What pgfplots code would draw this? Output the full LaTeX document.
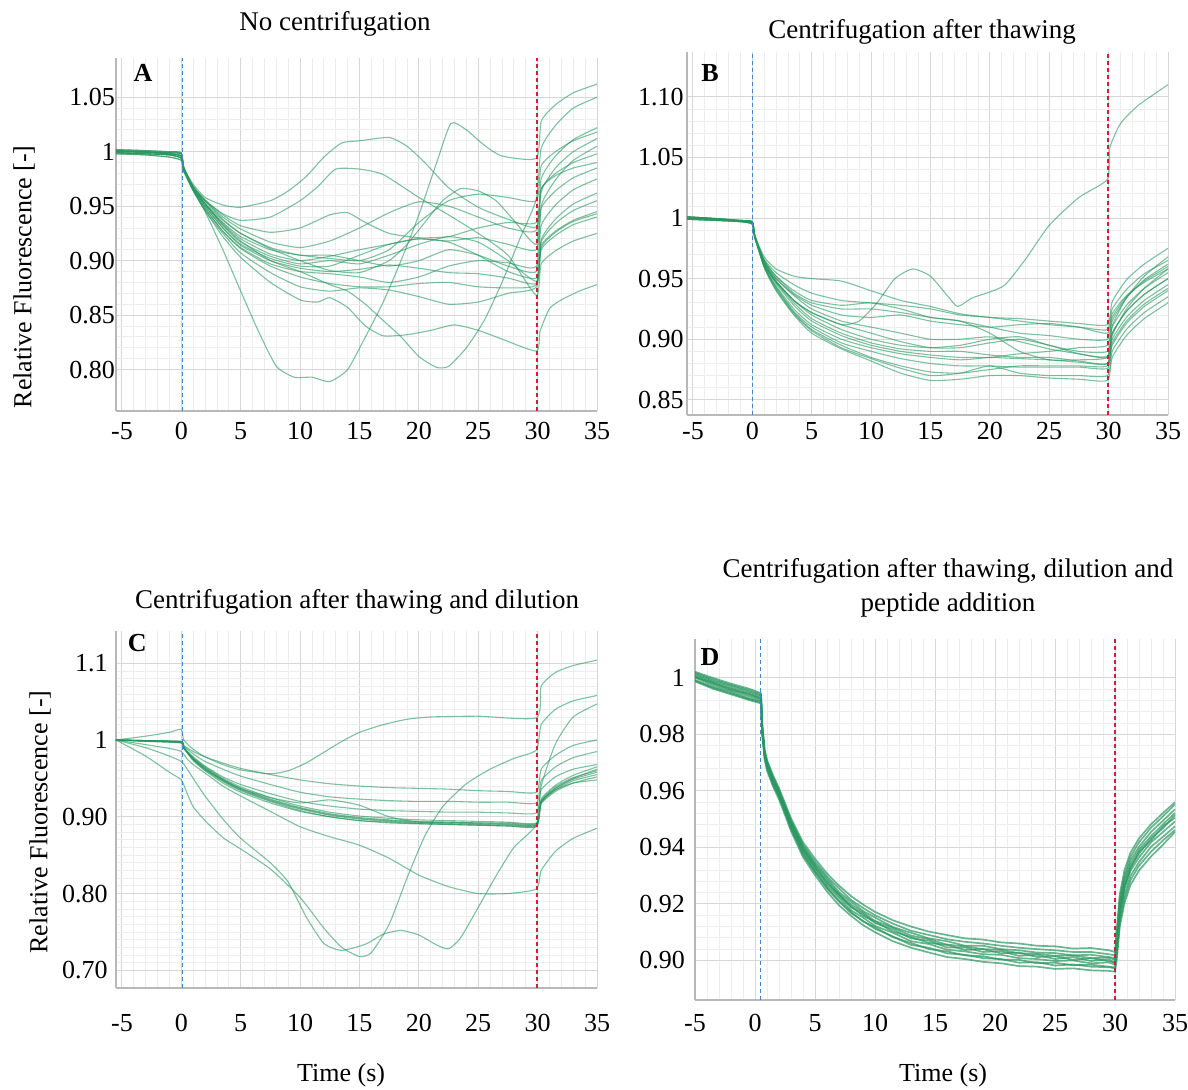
\documentclass[border=0pt]{standalone}
\usepackage{fontspec}
\setmainfont{Liberation Serif}
\usepackage{pgfplots}
\pgfplotsset{compat=1.18}
\definecolor{trc}{RGB}{40,150,95}
\definecolor{vblue}{RGB}{60,135,205}
\definecolor{vred}{RGB}{210,30,60}
\pgfplotsset{
  panel/.style={
    scale only axis,
    axis x line*=bottom, axis y line*=left,
    axis line style={-, draw=black!28, line width=0.6pt},
    major tick length=0pt, minor tick length=0pt,
    xmajorgrids, ymajorgrids, xminorgrids, yminorgrids,
    major grid style={draw=black!16, line width=0.5pt},
    minor grid style={draw=black!7, line width=0.4pt},
    xmin=-5.5, xmax=35,
    xtick={-5,0,5,10,15,20,25,30,35},
    xticklabels={-5,0,5,10,15,20,25,30,35},
    minor x tick num=4,
    tick label style={font=\fontsize{13}{15}\selectfont},
    label style={font=\fontsize{13}{15}\selectfont},
    /pgf/number format/assume math mode=true,
    clip=true,
  },
  tr/.style={draw=trc, draw opacity=0.6, line width=0.55pt, mark=none, smooth, tension=0.35},
  trd/.style={draw=trc, draw opacity=0.7, line width=0.85pt, mark=none},
}
\tikzset{
  vb/.style={draw=vblue, line width=0.7pt, dash pattern=on 2pt off 1.5pt},
  vr/.style={draw=vred, line width=0.6pt, dash pattern=on 2pt off 1.5pt},
}
\newcommand{\plab}[2]{\node[font=\bfseries\fontsize{13}{15}\selectfont] at (rel axis cs:#1) {#2};}
\begin{document}
\begin{tikzpicture}
\useasboundingbox (0,0) rectangle (594pt,545pt);
% ---------------- A ----------------
\begin{axis}[panel, at={(58pt,339.5pt)}, anchor=south west, width=240.5pt, height=176.5pt,
  ymin=0.762, ymax=1.086, ytick={0.8,0.85,0.9,0.95,1,1.05}, yticklabels={0.80,0.85,0.90,0.95,1,1.05},
  minor y tick num=4, ylabel={Relative Fluorescence [-]},
  ylabel style={at={(rel axis cs:-0.191,0.38)}, anchor=center},
  xticklabel style={yshift=-2pt}, yticklabel style={xshift=3pt}]
\addplot[tr] coordinates {(-5.5,1.001)(-3,1.0)(-1,0.999)(0,0.998)(0.2,0.985)(1,0.966)(2,0.945)(3.5,0.91)(5,0.872)(6.5,0.835)(8,0.803)(9.5,0.793)(11,0.793)(12.5,0.789)(14,0.8)(15.5,0.83)(17,0.862)(18.5,0.9)(20,0.942)(21.5,0.99)(22.7,1.026)(24,1.02)(25.5,1.006)(27,0.996)(29.9,0.994)(30.3,1.028)(31.5,1.043)(33,1.054)(35,1.062)};
\addplot[tr] coordinates {(-5.5,1.0)(-3,0.9995)(-1,0.998)(0,0.996)(0.2,0.985)(1,0.97)(2,0.958)(3.5,0.951)(5,0.949)(7.5,0.955)(9,0.964)(10.5,0.977)(12,0.995)(13.5,1.008)(15,1.01)(17.5,1.013)(19,1.005)(20.5,0.99)(22.5,0.967)(25,0.949)(27.5,0.938)(29.9,0.931)(30.3,0.966)(31.5,0.978)(33,0.985)(35,0.99)};
\addplot[tr] coordinates {(-5.5,0.999)(-3,0.998)(-1,0.997)(0,0.994)(0.2,0.983)(1,0.967)(2,0.955)(3.5,0.943)(5,0.937)(7.5,0.94)(10,0.955)(11.5,0.968)(13,0.984)(15,0.984)(17,0.979)(20,0.958)(22.5,0.942)(25,0.925)(27.5,0.905)(29.9,0.868)(30.3,0.897)(31.5,0.909)(33,0.918)(35,0.925)};
\addplot[tr] coordinates {(-5.5,0.998)(-3,0.997)(-1,0.995)(0,0.992)(0.2,0.982)(1,0.964)(2,0.946)(3.5,0.922)(5,0.903)(7.5,0.88)(10,0.864)(11.5,0.862)(12.5,0.866)(14,0.857)(15.5,0.84)(17,0.831)(19,0.832)(21,0.836)(23,0.841)(25,0.836)(27,0.828)(29.9,0.817)(30.2,0.835)(31,0.856)(32,0.864)(33.5,0.872)(35,0.878)};
\addplot[tr] coordinates {(-5.5,1.002)(-3,1.001)(-1,1.0)(0,0.999)(0.2,0.986)(1,0.967)(2,0.952)(3.5,0.933)(5,0.918)(7.5,0.9)(10,0.89)(12.5,0.878)(14,0.872)(15.5,0.86)(17,0.845)(18.5,0.83)(20,0.812)(21.5,0.802)(22.5,0.803)(24,0.82)(25.5,0.845)(27,0.88)(28.5,0.92)(29.9,0.957)(30.3,1.003)(31.5,1.024)(33,1.04)(35,1.05)};
\addplot[tr] coordinates {(-5.5,1.0)(-3,0.9995)(-1,0.998)(0,0.996)(0.2,0.985)(1,0.968)(2,0.955)(3.5,0.938)(5,0.925)(7.5,0.911)(10,0.9)(12.5,0.891)(15,0.889)(17.5,0.9)(19,0.915)(20.5,0.935)(22,0.955)(23.5,0.966)(25,0.964)(26.5,0.955)(28,0.937)(29.9,0.915)(30.3,0.963)(31.5,0.985)(33,1.0)(35,1.012)};
\addplot[tr] coordinates {(-5.5,1.001)(-3,1.0)(-1,0.999)(0,0.998)(0.2,0.985)(1,0.968)(2,0.956)(3.5,0.942)(5,0.932)(7.5,0.926)(10,0.93)(12.5,0.942)(14,0.944)(15.5,0.935)(17.5,0.925)(20,0.921)(22.5,0.922)(25,0.93)(27.5,0.935)(29.9,0.935)(30.3,0.966)(31.5,0.98)(33,0.99)(35,0.998)};
\addplot[tr] coordinates {(-5.5,0.999)(-3,0.998)(-1,0.997)(0,0.994)(0.2,0.983)(1,0.966)(2,0.952)(3.5,0.934)(5,0.92)(7.5,0.906)(10,0.9)(12.5,0.904)(15,0.91)(17.5,0.915)(20,0.92)(22.5,0.918)(25,0.921)(27.5,0.915)(29.9,0.91)(30.3,0.948)(31.5,0.964)(33,0.976)(35,0.985)};
\addplot[tr] coordinates {(-5.5,1.0)(-3,0.9995)(-1,0.998)(0,0.996)(0.2,0.985)(1,0.967)(2,0.952)(3.5,0.932)(5,0.917)(7.5,0.904)(10,0.897)(12.5,0.9)(15,0.897)(17.5,0.905)(20,0.915)(22.5,0.922)(25,0.917)(27.5,0.9)(29.9,0.881)(30.3,0.912)(31.5,0.926)(33,0.936)(35,0.943)};
\addplot[tr] coordinates {(-5.5,1.001)(-3,1.0)(-1,0.999)(0,0.998)(0.2,0.985)(1,0.966)(2,0.95)(3.5,0.93)(5,0.914)(7.5,0.9)(10,0.893)(12.5,0.89)(15,0.892)(17.5,0.896)(20,0.893)(22.5,0.889)(25,0.888)(27.5,0.884)(29.9,0.879)(30.3,0.91)(31.5,0.923)(33,0.933)(35,0.94)};
\addplot[tr] coordinates {(-5.5,0.999)(-3,0.998)(-1,0.997)(0,0.994)(0.2,0.983)(1,0.965)(2,0.948)(3.5,0.927)(5,0.911)(7.5,0.895)(10,0.885)(12.5,0.879)(15,0.876)(17.5,0.876)(20,0.879)(22.5,0.88)(25,0.876)(27.5,0.875)(29.9,0.878)(30.3,0.917)(31.5,0.934)(33,0.946)(35,0.955)};
\addplot[tr] coordinates {(-5.5,1.0)(-3,0.9995)(-1,0.998)(0,0.996)(0.2,0.984)(1,0.964)(2,0.946)(3.5,0.925)(5,0.907)(7.5,0.889)(10,0.876)(12.5,0.872)(15,0.875)(17.5,0.873)(20,0.867)(22.5,0.86)(25,0.862)(27.5,0.87)(29.9,0.876)(30.3,0.919)(31.5,0.938)(33,0.952)(35,0.962)};
\addplot[tr] coordinates {(-5.5,1.002)(-3,1.001)(-1,1.0)(0,0.999)(0.2,0.986)(1,0.968)(2,0.955)(3.5,0.94)(5,0.929)(7.5,0.917)(10,0.912)(12.5,0.918)(15,0.93)(17.5,0.944)(20,0.954)(22.5,0.95)(25,0.94)(27.5,0.93)(29.9,0.928)(30.3,0.975)(31.5,0.996)(33,1.011)(35,1.022)};
\addplot[tr] coordinates {(-5.5,1.0)(-3,0.9995)(-1,0.998)(0,0.996)(0.2,0.985)(1,0.967)(2,0.952)(3.5,0.935)(5,0.922)(7.5,0.91)(10,0.905)(12.5,0.902)(15,0.9)(17.5,0.91)(20,0.935)(22.5,0.955)(25,0.961)(27.5,0.958)(29.9,0.955)(30.3,0.987)(31.5,1.0)(33,1.01)(35,1.018)};
\addplot[tr] coordinates {(-5.5,0.998)(-3,0.997)(-1,0.995)(0,0.992)(0.2,0.982)(1,0.967)(2,0.953)(3.5,0.937)(5,0.925)(7.5,0.912)(10,0.905)(12.5,0.905)(15,0.9)(17.5,0.895)(20,0.9)(22.5,0.91)(25,0.905)(27.5,0.895)(29.9,0.89)(30.3,0.932)(31.5,0.951)(33,0.965)(35,0.975)};
\addplot[tr] coordinates {(-5.5,1.001)(-3,1.0)(-1,0.999)(0,0.998)(0.2,0.985)(1,0.966)(2,0.95)(3.5,0.93)(5,0.915)(7.5,0.902)(10,0.895)(12.5,0.895)(15,0.905)(17.5,0.915)(20,0.92)(22.5,0.917)(25,0.905)(27.5,0.89)(29.9,0.884)(30.3,0.914)(31.5,0.927)(33,0.937)(35,0.945)};
\addplot[tr] coordinates {(-5.5,0.999)(-3,0.998)(-1,0.997)(0,0.994)(0.2,0.983)(1,0.965)(2,0.948)(3.5,0.927)(5,0.912)(7.5,0.897)(10,0.89)(12.5,0.888)(15,0.885)(17.5,0.88)(20,0.885)(22.5,0.895)(25,0.9)(27.5,0.898)(29.9,0.895)(30.3,0.95)(31.5,0.974)(33,0.992)(35,1.005)};
\draw[vb] (axis cs:0.08,0.762) -- (axis cs:0.08,1.086);
\draw[vr] (axis cs:29.95,0.762) -- (axis cs:29.95,1.086);
\plab{0.056,0.957}{A}
\end{axis}
% ---------------- B ----------------
\begin{axis}[panel, at={(343.5pt,337.5pt)}, anchor=south west, width=240.5pt, height=181.5pt,
  ymin=0.8375, ymax=1.137, ytick={0.85,0.9,0.95,1,1.05,1.1}, yticklabels={0.85,0.90,0.95,1,1.05,1.10},
  minor y tick num=4, yticklabel style={xshift=1.8pt}]
\addplot[tr] coordinates {(-5.5,1.0)(-3,0.999)(-1,0.9975)(0,0.996)(0.2,0.985)(1,0.963)(2,0.948)(3.5,0.932)(5,0.922)(7.5,0.912)(9,0.915)(10.5,0.93)(12,0.95)(13.5,0.958)(15,0.952)(16.5,0.935)(17.3,0.927)(18.5,0.934)(20,0.939)(21.3,0.945)(23,0.966)(25,0.994)(27.5,1.017)(29.9,1.032)(30.1,1.058)(31,1.078)(32.5,1.093)(35,1.11)};
\addplot[tr] coordinates {(-5.5,1.001)(-3,0.9995)(-1,0.998)(0,0.997)(0.2,0.986)(1,0.968)(2,0.958)(3.5,0.952)(5,0.95)(7.5,0.948)(10,0.94)(12.5,0.932)(15,0.927)(17.5,0.921)(20,0.918)(22.5,0.917)(25,0.915)(27.5,0.913)(29.9,0.912)(30.3,0.931)(31.5,0.949)(33,0.962)(35,0.975)};
\addplot[tr] coordinates {(-5.5,1.0)(-3,0.999)(-1,0.9975)(0,0.996)(0.2,0.985)(1,0.966)(2,0.955)(3.5,0.945)(5,0.938)(7.5,0.932)(10,0.93)(12.5,0.928)(15,0.925)(17.5,0.92)(20,0.918)(22.5,0.915)(25,0.912)(27.5,0.91)(29.9,0.908)(30.3,0.925)(31.5,0.941)(33,0.954)(35,0.965)};
\addplot[tr] coordinates {(-5.5,0.999)(-3,0.998)(-1,0.997)(0,0.995)(0.2,0.984)(1,0.965)(2,0.952)(3.5,0.94)(5,0.932)(7.5,0.928)(10,0.93)(12.5,0.925)(15,0.918)(17.5,0.915)(20,0.91)(22.5,0.905)(25,0.903)(27.5,0.9)(29.9,0.9)(30.3,0.918)(31.5,0.935)(33,0.948)(35,0.96)};
\addplot[tr] coordinates {(-5.5,1.001)(-3,0.9995)(-1,0.998)(0,0.997)(0.2,0.986)(1,0.964)(2,0.95)(3.5,0.937)(5,0.928)(7.5,0.92)(10,0.918)(12.5,0.92)(15,0.915)(17.5,0.912)(20,0.91)(22.5,0.912)(25,0.913)(27.5,0.91)(29.9,0.905)(30.3,0.921)(31.5,0.936)(33,0.947)(35,0.958)};
\addplot[tr] coordinates {(-5.5,1.0)(-3,0.999)(-1,0.9975)(0,0.996)(0.2,0.985)(1,0.965)(2,0.952)(3.5,0.938)(5,0.93)(7.5,0.925)(10,0.925)(12.5,0.922)(15,0.918)(17.5,0.915)(20,0.905)(22.5,0.89)(25,0.883)(27.5,0.883)(29.9,0.885)(30.3,0.905)(31.5,0.923)(33,0.937)(35,0.95)};
\addplot[tr] coordinates {(-5.5,0.999)(-3,0.998)(-1,0.997)(0,0.995)(0.2,0.984)(1,0.963)(2,0.948)(3.5,0.932)(5,0.92)(7.5,0.908)(10,0.9)(12.5,0.895)(15,0.893)(17.5,0.895)(20,0.9)(22.5,0.902)(25,0.895)(27.5,0.89)(29.9,0.89)(30.3,0.91)(31.5,0.928)(33,0.942)(35,0.955)};
\addplot[tr] coordinates {(-5.5,1.0)(-3,0.999)(-1,0.9975)(0,0.996)(0.2,0.985)(1,0.962)(2,0.947)(3.5,0.93)(5,0.917)(7.5,0.905)(10,0.897)(12.5,0.892)(15,0.89)(17.5,0.89)(20,0.887)(22.5,0.885)(25,0.885)(27.5,0.882)(29.9,0.88)(30.3,0.9)(31.5,0.918)(33,0.932)(35,0.945)};
\addplot[tr] coordinates {(-5.5,1.001)(-3,0.9995)(-1,0.998)(0,0.997)(0.2,0.986)(1,0.962)(2,0.946)(3.5,0.928)(5,0.915)(7.5,0.903)(10,0.895)(12.5,0.89)(15,0.887)(17.5,0.885)(20,0.885)(22.5,0.884)(25,0.883)(27.5,0.881)(29.9,0.88)(30.3,0.903)(31.5,0.925)(33,0.942)(35,0.958)};
\addplot[tr] coordinates {(-5.5,1.0)(-3,0.999)(-1,0.9975)(0,0.996)(0.2,0.985)(1,0.961)(2,0.944)(3.5,0.925)(5,0.912)(7.5,0.9)(10,0.893)(12.5,0.888)(15,0.885)(17.5,0.883)(20,0.885)(22.5,0.888)(25,0.89)(27.5,0.893)(29.9,0.895)(30.3,0.915)(31.5,0.934)(33,0.949)(35,0.962)};
\addplot[tr] coordinates {(-5.5,0.999)(-3,0.998)(-1,0.997)(0,0.995)(0.2,0.984)(1,0.96)(2,0.943)(3.5,0.923)(5,0.91)(7.5,0.897)(10,0.89)(12.5,0.884)(15,0.88)(17.5,0.878)(20,0.878)(22.5,0.877)(25,0.877)(27.5,0.877)(29.9,0.876)(30.3,0.895)(31.5,0.913)(33,0.927)(35,0.94)};
\addplot[tr] coordinates {(-5.5,1.001)(-3,0.9995)(-1,0.998)(0,0.997)(0.2,0.986)(1,0.96)(2,0.942)(3.5,0.922)(5,0.908)(7.5,0.895)(10,0.885)(12.5,0.878)(15,0.873)(17.5,0.872)(20,0.875)(22.5,0.878)(25,0.878)(27.5,0.878)(29.9,0.878)(30.3,0.897)(31.5,0.915)(33,0.929)(35,0.942)};
\addplot[tr] coordinates {(-5.5,1.0)(-3,0.999)(-1,0.9975)(0,0.996)(0.2,0.985)(1,0.959)(2,0.94)(3.5,0.92)(5,0.905)(7.5,0.892)(10,0.882)(12.5,0.872)(15,0.866)(17.5,0.867)(20,0.87)(22.5,0.87)(25,0.868)(27.5,0.867)(29.9,0.866)(30.3,0.885)(31.5,0.903)(33,0.917)(35,0.93)};
\addplot[tr] coordinates {(-5.5,0.999)(-3,0.998)(-1,0.997)(0,0.995)(0.2,0.984)(1,0.96)(2,0.941)(3.5,0.921)(5,0.907)(7.5,0.893)(10,0.884)(12.5,0.876)(15,0.87)(17.5,0.872)(20,0.878)(22.5,0.872)(25,0.87)(27.5,0.87)(29.9,0.87)(30.3,0.89)(31.5,0.908)(33,0.922)(35,0.935)};
\addplot[tr] coordinates {(-5.5,1.001)(-3,0.9995)(-1,0.998)(0,0.997)(0.2,0.986)(1,0.962)(2,0.947)(3.5,0.932)(5,0.922)(7.5,0.912)(10,0.905)(12.5,0.898)(15,0.893)(17.5,0.893)(20,0.897)(22.5,0.9)(25,0.895)(27.5,0.888)(29.9,0.885)(30.3,0.905)(31.5,0.923)(33,0.937)(35,0.95)};
\addplot[tr] coordinates {(-5.5,1.0)(-3,0.999)(-1,0.9975)(0,0.996)(0.2,0.985)(1,0.964)(2,0.95)(3.5,0.936)(5,0.925)(7.5,0.915)(10,0.91)(12.5,0.905)(15,0.9)(17.5,0.9)(20,0.902)(22.5,0.898)(25,0.892)(27.5,0.888)(29.9,0.886)(30.3,0.911)(31.5,0.934)(33,0.952)(35,0.968)};
\draw[vb] (axis cs:0.03,0.8375) -- (axis cs:0.03,1.137);
\draw[vr] (axis cs:29.95,0.8375) -- (axis cs:29.95,1.137);
\plab{0.048,0.942}{B}
\end{axis}
% ---------------- C ----------------
\begin{axis}[panel, at={(58pt,51pt)}, anchor=south west, width=240.5pt, height=178.5pt,
  ymin=0.677, ymax=1.142, ytick={0.7,0.8,0.9,1,1.1}, yticklabels={0.70,0.80,0.90,1,1.1},
  minor y tick num=9, ylabel={Relative Fluorescence [-]}, xlabel={Time (s)},
  ylabel style={at={(rel axis cs:-0.158,0.465)}, anchor=center},
  xlabel style={at={(rel axis cs:0.468,-0.244)}, anchor=center},
  xticklabel style={yshift=-9.5pt}, yticklabel style={xshift=-0.7pt}]
\addplot[tr] coordinates {(-5.5,1.0)(-3,1.005)(-1,1.01)(0,1.014)(0.2,1.0)(1,0.988)(2,0.978)(3.5,0.968)(5,0.961)(7.5,0.956)(9,0.96)(10.5,0.97)(12,0.984)(13.5,0.998)(15,1.01)(17,1.02)(19,1.027)(21,1.03)(25,1.031)(29.9,1.029)(30.3,1.07)(31.5,1.088)(33,1.097)(35,1.104)};
\addplot[tr] coordinates {(-5.5,1.0)(-3,0.979)(-1,0.958)(0,0.948)(0.5,0.93)(1,0.913)(2,0.895)(3.5,0.873)(5,0.858)(7.5,0.832)(10,0.795)(12,0.755)(13.5,0.73)(15,0.718)(16,0.723)(17.5,0.76)(19,0.82)(20.5,0.875)(22,0.913)(24,0.943)(26,0.962)(28,0.976)(29.9,0.987)(30.3,1.02)(31.5,1.04)(33,1.051)(35,1.058)};
\addplot[tr] coordinates {(-5.5,1.0)(-3,0.99)(-1,0.979)(0,0.972)(0.5,0.962)(1,0.95)(2,0.927)(3.5,0.897)(5,0.872)(7.5,0.84)(9,0.815)(10.5,0.77)(12,0.735)(13.5,0.726)(15.5,0.734)(17,0.747)(18.5,0.752)(20,0.746)(21.5,0.733)(22.5,0.728)(23.5,0.742)(25,0.782)(26.5,0.823)(28,0.86)(29.9,0.89)(30.3,0.94)(31.5,0.995)(33,1.03)(35,1.047)};
\addplot[tr] coordinates {(-5.5,1.0)(-3,0.994)(-1,0.989)(0,0.985)(0.5,0.975)(1,0.968)(2,0.957)(3.5,0.94)(5,0.927)(7.5,0.907)(10,0.887)(12.5,0.874)(15,0.863)(17.5,0.846)(20,0.824)(22.5,0.809)(25,0.8)(27.5,0.8)(29.9,0.806)(30.3,0.83)(31.5,0.855)(33,0.872)(35,0.885)};
\addplot[tr] coordinates {(-5.5,1.0)(-2.5,0.999)(0,0.998)(0.2,0.993)(1,0.985)(2,0.978)(3.5,0.97)(5,0.963)(7.5,0.955)(10,0.948)(12.5,0.943)(15,0.94)(17.5,0.938)(20,0.937)(22.5,0.936)(25,0.934)(27.5,0.933)(29.9,0.932)(30.3,0.962)(31.5,0.98)(33,0.993)(35,1.0)};
\addplot[tr] coordinates {(-5.5,1.0)(-2.5,0.9985)(0,0.997)(0.2,0.992)(1,0.982)(2,0.972)(3.5,0.962)(5,0.953)(7.5,0.942)(10,0.932)(12.5,0.926)(15,0.923)(17.5,0.921)(20,0.92)(22.5,0.92)(25,0.919)(27.5,0.919)(29.9,0.918)(30.3,0.947)(31.5,0.965)(33,0.977)(35,0.985)};
\addplot[tr] coordinates {(-5.5,1.0)(-2.5,0.9985)(0,0.997)(0.2,0.99)(1,0.978)(2,0.966)(3.5,0.952)(5,0.942)(7.5,0.93)(10,0.92)(12.5,0.914)(15,0.91)(17.5,0.908)(20,0.907)(22.5,0.906)(25,0.906)(27.5,0.905)(29.9,0.905)(30.3,0.935)(31.5,0.952)(33,0.962)(35,0.968)};
\addplot[tr] coordinates {(-5.5,1.0)(-2.5,0.999)(0,0.997)(0.2,0.99)(1,0.975)(2,0.962)(3.5,0.948)(5,0.937)(7.5,0.925)(10,0.918)(12.5,0.922)(15,0.915)(17.5,0.9)(20,0.893)(22.5,0.893)(25,0.892)(27.5,0.892)(29.9,0.891)(30.3,0.92)(31.5,0.935)(33,0.944)(35,0.948)};
\addplot[tr] coordinates {(-5.5,1.0)(-2.5,0.999)(0,0.998)(0.2,0.991)(1,0.977)(2,0.965)(3.5,0.95)(5,0.939)(7.5,0.925)(10,0.914)(12.5,0.906)(15,0.901)(17.5,0.898)(20,0.896)(22.5,0.895)(25,0.894)(27.5,0.893)(29.9,0.892)(30.3,0.923)(31.5,0.941)(33,0.954)(35,0.965)};
\addplot[tr] coordinates {(-5.5,1.0)(-2.5,0.9985)(0,0.997)(0.2,0.99)(1,0.976)(2,0.964)(3.5,0.949)(5,0.937)(7.5,0.923)(10,0.912)(12.5,0.904)(15,0.899)(17.5,0.896)(20,0.894)(22.5,0.893)(25,0.892)(27.5,0.891)(29.9,0.89)(30.3,0.921)(31.5,0.939)(33,0.951)(35,0.96)};
\addplot[tr] coordinates {(-5.5,1.0)(-2.5,0.998)(0,0.996)(0.2,0.989)(1,0.975)(2,0.962)(3.5,0.947)(5,0.935)(7.5,0.921)(10,0.91)(12.5,0.902)(15,0.897)(17.5,0.894)(20,0.892)(22.5,0.891)(25,0.89)(27.5,0.889)(29.9,0.889)(30.3,0.92)(31.5,0.937)(33,0.949)(35,0.958)};
\addplot[tr] coordinates {(-5.5,1.0)(-2.5,0.9988)(0,0.9975)(0.2,0.99)(1,0.974)(2,0.961)(3.5,0.946)(5,0.934)(7.5,0.92)(10,0.908)(12.5,0.9)(15,0.895)(17.5,0.893)(20,0.891)(22.5,0.89)(25,0.889)(27.5,0.888)(29.9,0.888)(30.3,0.918)(31.5,0.935)(33,0.947)(35,0.955)};
\addplot[tr] coordinates {(-5.5,1.0)(-2.5,0.9982)(0,0.9965)(0.2,0.989)(1,0.976)(2,0.963)(3.5,0.948)(5,0.936)(7.5,0.922)(10,0.911)(12.5,0.903)(15,0.898)(17.5,0.895)(20,0.893)(22.5,0.892)(25,0.891)(27.5,0.89)(29.9,0.889)(30.3,0.917)(31.5,0.933)(33,0.944)(35,0.952)};
\addplot[tr] coordinates {(-5.5,1.0)(-2.5,0.999)(0,0.997)(0.2,0.99)(1,0.973)(2,0.96)(3.5,0.944)(5,0.932)(7.5,0.918)(10,0.907)(12.5,0.9)(15,0.895)(17.5,0.892)(20,0.891)(22.5,0.89)(25,0.889)(27.5,0.888)(29.9,0.887)(30.3,0.919)(31.5,0.937)(33,0.95)(35,0.962)};
\draw[vb] (axis cs:0.08,0.677) -- (axis cs:0.08,1.142);
\draw[vr] (axis cs:29.95,0.677) -- (axis cs:29.95,1.142);
\plab{0.044,0.966}{C}
\end{axis}
% ---------------- D ----------------
\begin{axis}[panel, at={(347.5pt,45pt)}, anchor=south west, width=240pt, height=180.5pt,
  xmin=-5, xmax=35,
  ymin=0.886, ymax=1.0138, ytick={0.9,0.92,0.94,0.96,0.98,1}, yticklabels={0.90,0.92,0.94,0.96,0.98,1},
  minor y tick num=4, xlabel={Time (s)},
  xlabel style={at={(rel axis cs:0.517,-0.208)}, anchor=center},
  xticklabel style={yshift=-3.5pt}, yticklabel style={xshift=-1.5pt}]
\addplot[trd] coordinates {(-5,0.9993)(-3.5,0.9969)(-2,0.9950)(-0.5,0.9928)(0.5,0.9918)(0.6,0.9810)(0.8,0.9722)(1,0.9683)(1.5,0.9626)(2,0.9582)(2.5,0.9528)(3,0.9470)(4,0.9378)(5,0.9315)(6,0.9258)(7,0.9212)(8,0.9172)(9,0.9138)(10,0.9118)(11.5,0.9082)(13,0.9062)(14.5,0.9040)(16,0.9032)(17.5,0.9018)(19,0.9015)(20.5,0.9003)(22,0.9002)(23.5,0.8990)(25,0.8992)(26.5,0.8983)(28,0.8985)(29.5,0.8978)(30,0.8975)(30.15,0.9030)(30.4,0.9150)(30.8,0.9235)(31.3,0.9300)(32,0.9348)(33,0.9402)(34,0.9438)(35,0.9475)};
\addplot[trd] coordinates {(-5,1.0001)(-3.5,0.9975)(-2,0.9955)(-0.5,0.9935)(0.5,0.9922)(0.6,0.9815)(0.8,0.9726)(1,0.9688)(1.5,0.9630)(2,0.9586)(2.5,0.9532)(3,0.9474)(4,0.9385)(5,0.9322)(6,0.9265)(7,0.9222)(8,0.9178)(9,0.9152)(10,0.9122)(11.5,0.9098)(13,0.9068)(14.5,0.9058)(16,0.9038)(17.5,0.9032)(19,0.9022)(20.5,0.9020)(22,0.9008)(23.5,0.9005)(25,0.8998)(26.5,0.9000)(28,0.8990)(29.5,0.8993)(30,0.8985)(30.15,0.9045)(30.4,0.9165)(30.8,0.9255)(31.3,0.9318)(32,0.9365)(33,0.9418)(34,0.9455)(35,0.9492)};
\addplot[trd] coordinates {(-5,1.0006)(-3.5,0.9980)(-2,0.9962)(-0.5,0.9940)(0.5,0.9929)(0.6,0.9822)(0.8,0.9731)(1,0.9692)(1.5,0.9636)(2,0.9589)(2.5,0.9537)(3,0.9481)(4,0.9392)(5,0.9328)(6,0.9278)(7,0.9228)(8,0.9192)(9,0.9158)(10,0.9138)(11.5,0.9102)(13,0.9083)(14.5,0.9062)(16,0.9055)(17.5,0.9037)(19,0.9040)(20.5,0.9025)(22,0.9028)(23.5,0.9012)(25,0.9015)(26.5,0.9002)(28,0.9008)(29.5,0.8997)(30,0.8994)(30.15,0.9060)(30.4,0.9182)(30.8,0.9268)(31.3,0.9332)(32,0.9378)(33,0.9432)(34,0.9468)(35,0.9515)};
\addplot[trd] coordinates {(-5,1.0010)(-3.5,0.9986)(-2,0.9966)(-0.5,0.9947)(0.5,0.9934)(0.6,0.9826)(0.8,0.9736)(1,0.9696)(1.5,0.9642)(2,0.9596)(2.5,0.9540)(3,0.9488)(4,0.9398)(5,0.9338)(6,0.9284)(7,0.9236)(8,0.9198)(9,0.9170)(10,0.9140)(11.5,0.9116)(13,0.9088)(14.5,0.9075)(16,0.9056)(17.5,0.9050)(19,0.9040)(20.5,0.9038)(22,0.9025)(23.5,0.9024)(25,0.9016)(26.5,0.9018)(28,0.9008)(29.5,0.9010)(30,0.9002)(30.15,0.9070)(30.4,0.9192)(30.8,0.9282)(31.3,0.9342)(32,0.9392)(33,0.9440)(34,0.9482)(35,0.9522)};
\addplot[trd] coordinates {(-5,1.0015)(-3.5,0.9990)(-2,0.9972)(-0.5,0.9952)(0.5,0.9938)(0.6,0.9828)(0.8,0.9738)(1,0.9700)(1.5,0.9645)(2,0.9600)(2.5,0.9545)(3,0.9492)(4,0.9405)(5,0.9342)(6,0.9292)(7,0.9242)(8,0.9208)(9,0.9175)(10,0.9152)(11.5,0.9118)(13,0.9098)(14.5,0.9078)(16,0.9068)(17.5,0.9052)(19,0.9052)(20.5,0.9040)(22,0.9036)(23.5,0.9028)(25,0.9026)(26.5,0.9018)(28,0.9020)(29.5,0.9012)(30,0.9008)(30.15,0.9080)(30.4,0.9205)(30.8,0.9292)(31.3,0.9355)(32,0.9402)(33,0.9455)(34,0.9495)(35,0.9535)};
\addplot[trd] coordinates {(-5,1.0018)(-3.5,0.9995)(-2,0.9975)(-0.5,0.9957)(0.5,0.9942)(0.6,0.9832)(0.8,0.9742)(1,0.9704)(1.5,0.9650)(2,0.9604)(2.5,0.9550)(3,0.9496)(4,0.9410)(5,0.9350)(6,0.9298)(7,0.9255)(8,0.9214)(9,0.9186)(10,0.9160)(11.5,0.9130)(13,0.9105)(14.5,0.9090)(16,0.9075)(17.5,0.9066)(19,0.9060)(20.5,0.9052)(22,0.9045)(23.5,0.9040)(25,0.9036)(26.5,0.9030)(28,0.9030)(29.5,0.9022)(30,0.9018)(30.15,0.9095)(30.4,0.9220)(30.8,0.9305)(31.3,0.9368)(32,0.9418)(33,0.9470)(34,0.9510)(35,0.9552)};
\addplot[trd] coordinates {(-5,0.9990)(-3.5,0.9965)(-2,0.9946)(-0.5,0.9925)(0.5,0.9914)(0.6,0.9806)(0.8,0.9718)(1,0.9680)(1.5,0.9622)(2,0.9578)(2.5,0.9522)(3,0.9466)(4,0.9374)(5,0.9312)(6,0.9255)(7,0.9208)(8,0.9168)(9,0.9140)(10,0.9112)(11.5,0.9085)(13,0.9055)(14.5,0.9045)(16,0.9025)(17.5,0.9020)(19,0.9008)(20.5,0.9005)(22,0.8992)(23.5,0.8994)(25,0.8982)(26.5,0.8986)(28,0.8978)(29.5,0.8976)(30,0.8972)(30.15,0.9020)(30.4,0.9135)(30.8,0.9220)(31.3,0.9285)(32,0.9335)(33,0.9385)(34,0.9425)(35,0.9462)};
\addplot[trd] coordinates {(-5,1.0003)(-3.5,0.9983)(-2,0.9958)(-0.5,0.9944)(0.5,0.9926)(0.6,0.9818)(0.8,0.9733)(1,0.9690)(1.5,0.9638)(2,0.9592)(2.5,0.9534)(3,0.9484)(4,0.9394)(5,0.9332)(6,0.9272)(7,0.9234)(8,0.9188)(9,0.9165)(10,0.9132)(11.5,0.9110)(13,0.9078)(14.5,0.9070)(16,0.9046)(17.5,0.9046)(19,0.9030)(20.5,0.9033)(22,0.9016)(23.5,0.9020)(25,0.9005)(26.5,0.9012)(28,0.8998)(29.5,0.9004)(30,0.8990)(30.15,0.9055)(30.4,0.9175)(30.8,0.9262)(31.3,0.9325)(32,0.9385)(33,0.9425)(34,0.9475)(35,0.9505)};
\addplot[trd] coordinates {(-5,0.9988)(-3.5,0.9962)(-2,0.9942)(-0.5,0.9922)(0.5,0.9910)(0.6,0.9800)(0.8,0.9712)(1,0.9672)(1.5,0.9616)(2,0.9570)(2.5,0.9515)(3,0.9458)(4,0.9366)(5,0.9302)(6,0.9244)(7,0.9195)(8,0.9158)(9,0.9125)(10,0.9100)(11.5,0.9068)(13,0.9045)(14.5,0.9028)(16,0.9012)(17.5,0.9005)(19,0.8995)(20.5,0.8990)(22,0.8980)(23.5,0.8978)(25,0.8970)(26.5,0.8972)(28,0.8965)(29.5,0.8963)(30,0.8960)(30.15,0.9005)(30.4,0.9120)(30.8,0.9205)(31.3,0.9268)(32,0.9318)(33,0.9368)(34,0.9410)(35,0.9455)};
\addplot[trd] coordinates {(-5,1.0022)(-3.5,1.0000)(-2,0.9980)(-0.5,0.9962)(0.5,0.9946)(0.6,0.9838)(0.8,0.9748)(1,0.9710)(1.5,0.9656)(2,0.9610)(2.5,0.9557)(3,0.9503)(4,0.9418)(5,0.9360)(6,0.9308)(7,0.9265)(8,0.9228)(9,0.9198)(10,0.9172)(11.5,0.9142)(13,0.9120)(14.5,0.9102)(16,0.9090)(17.5,0.9078)(19,0.9074)(20.5,0.9064)(22,0.9060)(23.5,0.9052)(25,0.9050)(26.5,0.9042)(28,0.9044)(29.5,0.9036)(30,0.9030)(30.15,0.9110)(30.4,0.9235)(30.8,0.9322)(31.3,0.9382)(32,0.9432)(33,0.9482)(34,0.9522)(35,0.9560)};
\draw[vb] (axis cs:0.45,0.886) -- (axis cs:0.45,1.0138);
\draw[vr] (axis cs:30,0.886) -- (axis cs:30,1.0138);
\plab{0.031,0.95}{D}
\end{axis}
% ---------------- titles ----------------
\node[font=\fontsize{13.5}{17}\selectfont] at (167.5pt,533pt) {No centrifugation};
\node[font=\fontsize{13.5}{17}\selectfont] at (461pt,529pt) {Centrifugation after thawing};
\node[font=\fontsize{13.5}{17}\selectfont] at (178.5pt,244pt) {Centrifugation after thawing and dilution};
\node[font=\fontsize{13.5}{17}\selectfont, align=center] at (474pt,251pt) {Centrifugation after thawing, dilution and\\peptide addition};
\end{tikzpicture}
\end{document}
